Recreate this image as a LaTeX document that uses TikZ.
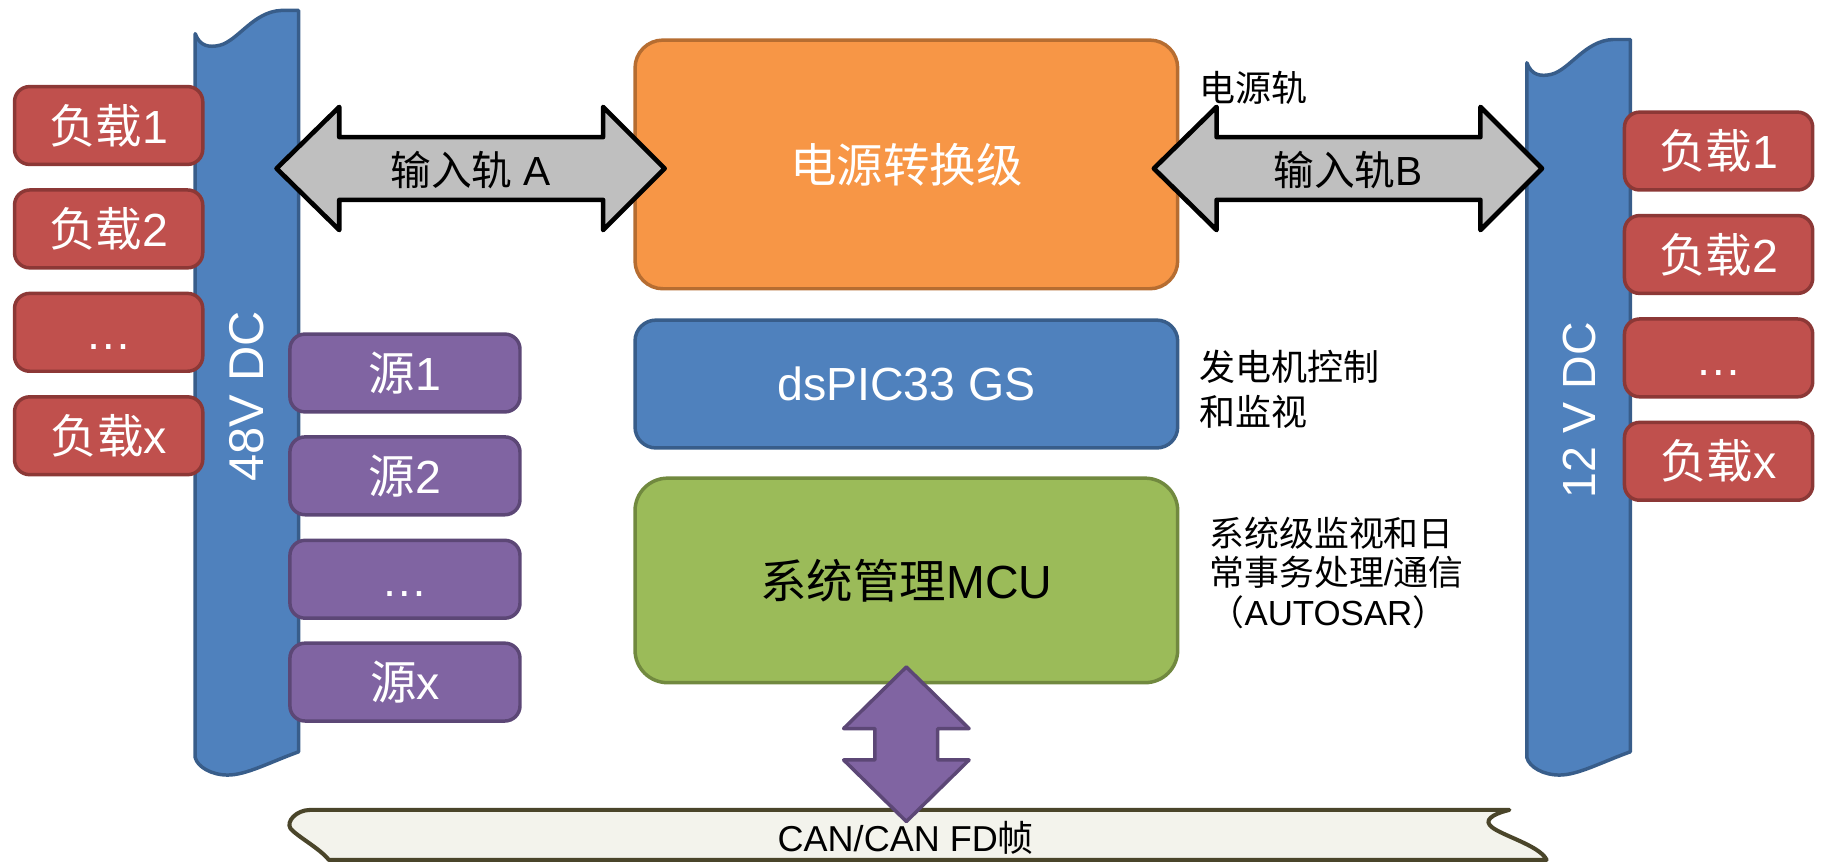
\documentclass[tikz,border=0pt]{standalone}
\usepackage{fontspec}
\setmainfont{Liberation Sans}
\newfontfamily\cjk{Noto Sans CJK SC}
\newcommand\zh[1]{{\cjk #1}}
\newcommand\fs[2]{\fontsize{#1}{#2}\selectfont}
\newcommand\boxdots{\vphantom{\zh{负}1}…}
\definecolor{redF}{HTML}{C0504D}\definecolor{redD}{HTML}{8C3836}
\definecolor{purF}{HTML}{8064A2}\definecolor{purD}{HTML}{5C4776}
\definecolor{bluF}{HTML}{4F81BD}\definecolor{bluD}{HTML}{385D8A}
\definecolor{orgF}{HTML}{F79646}\definecolor{orgD}{HTML}{B66D31}
\definecolor{grnF}{HTML}{9BBB59}\definecolor{grnD}{HTML}{71893F}
\definecolor{busF}{HTML}{F3F3EC}\definecolor{busD}{HTML}{4A452A}
\definecolor{arrG}{HTML}{BFBFBF}
\begin{document}
\begin{tikzpicture}[x=1pt,y=-1pt,
  every node/.style={inner sep=0pt, outer sep=0pt},
  dcbar/.style={draw=bluD, fill=bluF, line width=3pt, line join=round},
  loadbox/.style={draw=redD, fill=redF, line width=3pt, rounded corners=13pt,
    minimum width=162pt, minimum height=67pt, text=white, font=\fs{40}{48}},
  srcbox/.style={draw=purD, fill=purF, line width=3pt, rounded corners=13pt,
    minimum width=198pt, minimum height=67pt, text=white, font=\fs{40}{48}},
  bigbox/.style={line width=3pt, minimum width=467pt, font=\fs{40}{48}},
  garrow/.style={draw=black, fill=arrG, line width=4pt, line join=round},
  parrow/.style={draw=purD, fill=purF, line width=3pt, line join=round},
  buspath/.style={draw=busD, fill=busF, line width=3.5pt, line join=round},
  note/.style={anchor=west, align=left}]
\useasboundingbox (0,0) rectangle (1568,743);

% DC bars
\draw[dcbar] (168,29) .. controls (172,40) and (180,41) .. (189,39)
  .. controls (205,35) and (218,10) .. (242,9) -- (257,9) -- (257,647)
  .. controls (232,656) and (212,667) .. (196,667)
  .. controls (182,667) and (170,660) .. (168,652) -- cycle;
\node[rotate=90, text=white, font=\fs{42}{50}] (bar48) at (212.5,341) {48V DC};

\draw[dcbar] (1314,54) .. controls (1318,65) and (1326,66) .. (1335,64)
  .. controls (1351,60) and (1364,35) .. (1388,34) -- (1403,34) -- (1403,647)
  .. controls (1378,656) and (1358,667) .. (1342,667)
  .. controls (1328,667) and (1316,660) .. (1314,652) -- cycle;
\node[rotate=90, text=white, font=\fs{40}{48}] (bar12) at (1359,353) {12 V DC};

% loads left
\node[loadbox] (l1) at (93.5,108) {\zh{负载}1};
\node[loadbox] (l2) at (93.5,197) {\zh{负载}2};
\node[loadbox] (l3) at (93.5,286) {\boxdots};
\node[loadbox] (l4) at (93.5,375) {\zh{负载}x};

% sources
\node[srcbox] (s1) at (348.5,321) {\zh{源}1};
\node[srcbox] (s2) at (348.5,409.5) {\zh{源}2};
\node[srcbox] (s3) at (348.5,498.5) {\boxdots};
\node[srcbox] (s4) at (348.5,587) {\zh{源}x};

% loads right
\node[loadbox] (r1) at (1479,130) {\zh{负载}1};
\node[loadbox] (r2) at (1479,219) {\zh{负载}2};
\node[loadbox] (r3) at (1479,308) {\boxdots};
\node[loadbox] (r4) at (1479,397) {\zh{负载}x};

% central blocks
\node[bigbox, draw=orgD, fill=orgF, rounded corners=24pt, minimum height=214pt, text=white]
  (conv) at (780,141.5) {\zh{电源转换级}};
\node[bigbox, draw=bluD, fill=bluF, rounded corners=18pt, minimum height=110pt, text=white]
  (dsp) at (780,330.5) {dsPIC33 GS};
\node[bigbox, draw=grnD, fill=grnF, rounded corners=28pt, minimum height=176pt, text=black]
  (mcu) at (780,499.5) {\zh{系统管理}MCU};

% side notes
\node[note, font=\fs{31}{37}] (railnote) at (1032,76) {\zh{电源轨}};
\node[note, font=\fs{31}{38}] (gennote) at (1032,335) {\zh{发电机控制}\\\zh{和监视}};
\node[note, font=\fs{30}{34}] (sysnote) at (1041,493) {\zh{系统级监视和日}\\\zh{常事务处理}/\zh{通信}\\\zh{（}AUTOSAR\zh{）}};

% CAN bus
\draw[buspath] (267,697) -- (1299,697)
  .. controls (1290,699) and (1277,704) .. (1282,710)
  .. controls (1288,718) and (1325,727) .. (1331,740) -- (283,740)
  .. controls (275,730) and (256,720) .. (250,713)
  .. controls (246,707) and (255,697) .. (267,697) -- cycle;
\node[font=\fs{31}{37}] (can) at (779.5,721) {CAN/CAN FD\zh{帧}};

% block arrows
\draw[garrow] (238,145) -- (292,92) -- (292,118) -- (519,118) -- (519,92) -- (572,145)
  -- (519,198) -- (519,172) -- (292,172) -- (292,198) -- cycle;
\node[font=\fs{35}{42}] (railA) at (405,146) {\zh{输入轨} A};

\draw[garrow] (993,145) -- (1047,92) -- (1047,118) -- (1274,118) -- (1274,92) -- (1327,145)
  -- (1274,198) -- (1274,172) -- (1047,172) -- (1047,198) -- cycle;
\node[font=\fs{35}{42}] (railB) at (1160,146) {\zh{输入轨}B};

\draw[parrow] (780,574) -- (834,627) -- (807,627) -- (807,654) -- (834,654) -- (780,707)
  -- (726,654) -- (753,654) -- (753,627) -- (726,627) -- cycle;
\end{tikzpicture}
\end{document}
